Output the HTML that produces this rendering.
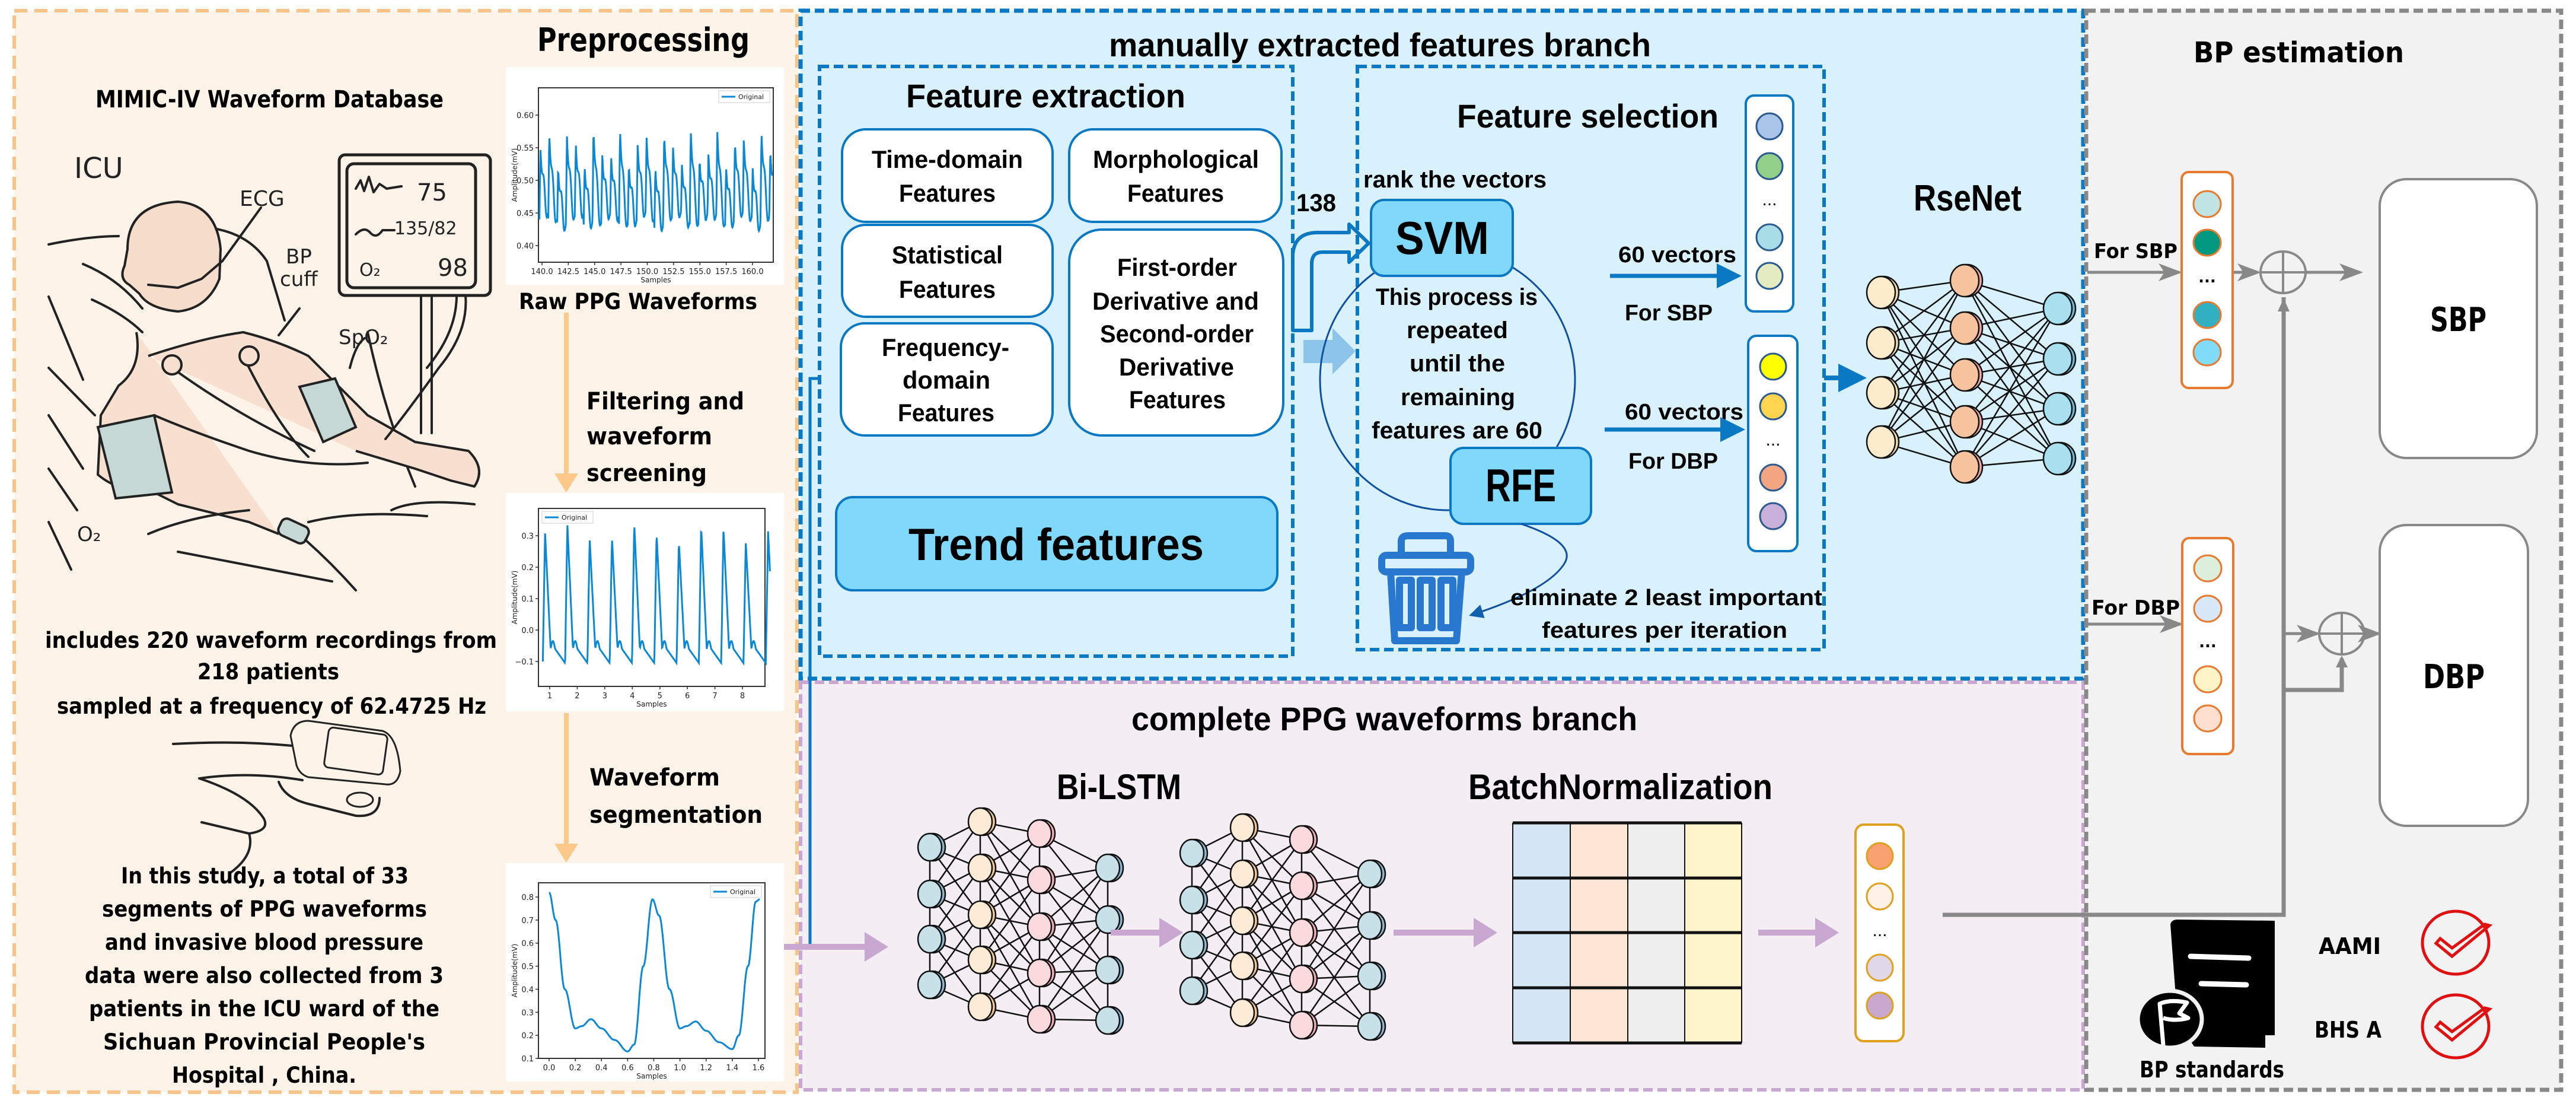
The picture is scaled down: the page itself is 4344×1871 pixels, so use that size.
<!DOCTYPE html>
<html><head><meta charset="utf-8">
<style>
html,body{margin:0;padding:0;background:#fff;}
svg{display:block;}
.v{font-family:"DejaVu Sans","Liberation Sans",sans-serif;font-weight:bold;fill:#000;}
.c{font-family:"Liberation Sans",sans-serif;font-weight:bold;fill:#000;}
.ln{stroke:#222;stroke-width:4;fill:none;stroke-linecap:round;stroke-linejoin:round;}
</style></head>
<body>
<svg id="s" width="4344" height="1871" viewBox="0 0 4344 1871" xmlns="http://www.w3.org/2000/svg">
<defs>
<marker id="ag" markerWidth="8" markerHeight="8" refX="7" refY="4" orient="auto" markerUnits="strokeWidth"><path d="M0,1 L8,4 L0,7 L2,4z" fill="#888"/></marker>
<marker id="ab" markerWidth="6" markerHeight="6" refX="5" refY="3" orient="auto" markerUnits="strokeWidth"><path d="M0,0 L6,3 L0,6z" fill="#0a78c2"/></marker>
<marker id="ap" markerWidth="4" markerHeight="5" refX="3" refY="2.5" orient="auto" markerUnits="strokeWidth"><path d="M0,0 L4,2.5 L0,5z" fill="#c8a8d0"/></marker>
<marker id="ao" markerWidth="4" markerHeight="5" refX="3" refY="2.5" orient="auto" markerUnits="strokeWidth"><path d="M0,0 L4,2.5 L0,5z" fill="#fcc98a"/></marker>
<marker id="ad" markerWidth="8" markerHeight="8" refX="7" refY="4" orient="auto" markerUnits="strokeWidth"><path d="M0,0 L8,4 L0,8z" fill="#1060b0"/></marker>
</defs>

<!-- panels -->
<rect x="24" y="18" width="1320" height="1823" fill="#fdf3e9" stroke="#f8c48a" stroke-width="6" stroke-dasharray="22,12"/>
<rect x="1350" y="18" width="2163" height="1126" fill="#d9f1fc" stroke="#0a78c2" stroke-width="7" stroke-dasharray="16,8"/>
<rect x="1350" y="1150" width="2163" height="687" fill="#f4eef4" stroke="#c8a8d0" stroke-width="6" stroke-dasharray="16,8"/>
<rect x="3518" y="18" width="801" height="1819" fill="#f2f2f2" stroke="#888" stroke-width="7" stroke-dasharray="16,8"/>

<!-- LEFT PANEL -->
<text class="v" x="906" y="86" font-size="54" textLength="358" lengthAdjust="spacingAndGlyphs">Preprocessing</text>
<text class="v" x="161" y="181" font-size="40" textLength="587" lengthAdjust="spacingAndGlyphs">MIMIC-IV Waveform Database</text>

<!-- ICU illustration -->
<g id="icu">
<path d="M82,412 Q150,398 200,398 M140,445 Q200,470 240,520 M155,505 Q210,530 240,560 M82,500 L140,640 M82,620 L160,700 M82,700 L140,790 M82,790 L130,860 M82,880 L120,960" class="ln"/>
<path d="M360,385 Q420,395 450,440 L480,540 M620,560 Q650,700 700,820" class="ln"/>
<path d="M230,560 Q240,620 200,650 L170,700 L165,800 Q200,830 260,830 L300,850 L420,880 L470,900 M250,600 Q340,570 410,560 Q470,575 520,600 L560,640 L620,700 L700,745 L790,760 Q820,790 800,820 L760,810 L700,790 L600,760" fill="#f8e0d0" stroke="#222" stroke-width="4" stroke-linejoin="round"/>
<path d="M215,420 Q215,345 300,340 Q365,345 372,420 L370,470 Q350,520 300,525 Q250,520 235,495 L218,480 Q200,470 210,448 Z" fill="#f6dccb" stroke="#222" stroke-width="4"/>
<path d="M250,480 L300,485 L340,470 L375,440" class="ln"/>
<path d="M375,440 L440,350" class="ln"/>
<path d="M165,720 L260,700 L290,830 L195,840 Z" fill="#c5d8d3" stroke="#222" stroke-width="4"/>
<path d="M505,652 L565,638 L600,720 L545,745 Z" fill="#c5d8d3" stroke="#222" stroke-width="4"/>
<path d="M260,700 Q330,730 420,760 Q520,790 620,780" class="ln"/>
<path d="M415,610 Q470,720 520,770 M290,620 Q400,700 530,760" class="ln"/>
<circle cx="290" cy="615" r="16" fill="#f8e0d0" stroke="#222" stroke-width="4"/>
<circle cx="420" cy="600" r="16" fill="#f8e0d0" stroke="#222" stroke-width="4"/>
<path d="M300,930 L560,980 M520,880 Q600,860 720,870 M660,860 Q700,840 800,850 M250,900 Q320,870 420,860" class="ln"/>
<rect x="470" y="880" width="50" height="30" rx="10" fill="#c5d8d3" stroke="#222" stroke-width="4" transform="rotate(25 495 895)"/>
<path d="M515,910 Q560,950 600,995" class="ln"/>
<path d="M470,565 L505,520" class="ln"/>
<path d="M590,620 Q600,580 615,570" class="ln"/>
<rect x="572" y="261" width="255" height="237" rx="10" fill="#fdf3e9" stroke="#222" stroke-width="5"/>
<rect x="585" y="276" width="217" height="209" rx="12" fill="#fdf3e9" stroke="#222" stroke-width="5"/>
<path d="M710,498 L710,730 M728,498 L728,730" class="ln"/>
<path d="M785,498 Q790,560 740,620 Q690,690 650,740 M770,498 Q770,560 720,620" class="ln"/>
<path d="M600,318 l8,-14 l6,18 l8,-24 l8,26 l10,-14 l12,8 l25,-4" class="ln"/>
<path d="M600,395 q15,-15 25,-2 q10,10 20,-5 l20,0" class="ln"/>
<text x="703" y="338" font-family="DejaVu Sans,sans-serif" font-size="40" fill="#222">75</text>
<text x="665" y="395" font-family="DejaVu Sans,sans-serif" font-size="30" fill="#222">135/82</text>
<text x="606" y="465" font-family="DejaVu Sans,sans-serif" font-size="30" fill="#222">O₂</text>
<text x="738" y="465" font-family="DejaVu Sans,sans-serif" font-size="40" fill="#222">98</text>
<text x="125" y="300" font-family="DejaVu Sans,sans-serif" font-size="48" fill="#222">ICU</text>
<text x="404" y="347" font-family="DejaVu Sans,sans-serif" font-size="36" fill="#222">ECG</text>
<text x="482" y="444" font-family="DejaVu Sans,sans-serif" font-size="34" fill="#222">BP</text>
<text x="472" y="482" font-family="DejaVu Sans,sans-serif" font-size="34" fill="#222">cuff</text>
<text x="571" y="580" font-family="DejaVu Sans,sans-serif" font-size="34" fill="#222">SpO₂</text>
<text x="130" y="912" font-family="DejaVu Sans,sans-serif" font-size="34" fill="#222">O₂</text>
</g>

<text class="v" x="76" y="1092" font-size="37" textLength="762" lengthAdjust="spacingAndGlyphs">includes 220 waveform recordings from</text>
<text class="v" x="333" y="1145" font-size="37" textLength="239" lengthAdjust="spacingAndGlyphs">218 patients</text>
<text class="v" x="96" y="1203" font-size="37" textLength="724" lengthAdjust="spacingAndGlyphs">sampled at a frequency of 62.4725 Hz</text>

<!-- wrist device -->
<path d="M292,1254 Q400,1248 493,1257 M337,1312 Q420,1300 510,1315 M336,1312 Q420,1340 445,1380 Q455,1400 420,1405 M340,1386 L420,1405 Q430,1440 390,1470" class="ln" stroke-width="3"/>
<path d="M490,1240 Q495,1215 520,1215 L645,1232 Q670,1240 675,1300 Q670,1325 650,1322 L520,1310 Q505,1305 500,1290 Z" fill="#fdf3e9" stroke="#222" stroke-width="3"/>
<rect x="550" y="1232" width="100" height="68" rx="8" fill="#fdf3e9" stroke="#222" stroke-width="3" transform="rotate(8 600 1266)"/>
<path d="M470,1318 Q480,1345 520,1355 L600,1375 Q640,1378 640,1345" class="ln" stroke-width="3"/>
<ellipse cx="607" cy="1348" rx="22" ry="12" fill="#fdf3e9" stroke="#222" stroke-width="3"/>

<text class="v" x="204" y="1489" font-size="37" textLength="485" lengthAdjust="spacingAndGlyphs">In this study, a total of 33</text>
<text class="v" x="172" y="1545" font-size="37" textLength="548" lengthAdjust="spacingAndGlyphs">segments of PPG waveforms</text>
<text class="v" x="177" y="1601" font-size="37" textLength="537" lengthAdjust="spacingAndGlyphs">and invasive blood pressure</text>
<text class="v" x="143" y="1657" font-size="37" textLength="605" lengthAdjust="spacingAndGlyphs">data were also collected from 3</text>
<text class="v" x="150" y="1713" font-size="37" textLength="591" lengthAdjust="spacingAndGlyphs">patients in the ICU ward of the</text>
<text class="v" x="174" y="1769" font-size="37" textLength="543" lengthAdjust="spacingAndGlyphs">Sichuan Provincial People's</text>
<text class="v" x="290" y="1825" font-size="37" textLength="311" lengthAdjust="spacingAndGlyphs">Hospital , China.</text>

<!-- charts -->
<g id="charts"></g>
<text class="v" x="875" y="521" font-size="37" textLength="402" lengthAdjust="spacingAndGlyphs">Raw PPG Waveforms</text>
<line x1="955" y1="527" x2="955" y2="822" stroke="#fcc98a" stroke-width="8" marker-end="url(#ao)"/>
<line x1="955" y1="1202" x2="955" y2="1446" stroke="#fcc98a" stroke-width="8" marker-end="url(#ao)"/>
<text class="v" x="989" y="690" font-size="40" textLength="266" lengthAdjust="spacingAndGlyphs">Filtering and</text>
<text class="v" x="989" y="749" font-size="40" textLength="212" lengthAdjust="spacingAndGlyphs">waveform</text>
<text class="v" x="989" y="811" font-size="40" textLength="203" lengthAdjust="spacingAndGlyphs">screening</text>
<text class="v" x="994" y="1324" font-size="40" textLength="220" lengthAdjust="spacingAndGlyphs">Waveform</text>
<text class="v" x="994" y="1387" font-size="40" textLength="292" lengthAdjust="spacingAndGlyphs">segmentation</text>

<!-- BLUE PANEL -->
<text class="c" x="1870" y="95" font-size="56" textLength="914" lengthAdjust="spacingAndGlyphs">manually extracted features branch</text>
<rect x="1382" y="112" width="798" height="994" fill="none" stroke="#0a78c2" stroke-width="6" stroke-dasharray="16,8"/>
<text class="c" x="1528" y="181" font-size="56" textLength="471" lengthAdjust="spacingAndGlyphs">Feature extraction</text>
<g fill="#fff" stroke="#0a78c2" stroke-width="4">
<rect x="1420" y="218" width="355" height="156" rx="40"/>
<rect x="1803" y="218" width="358" height="156" rx="40"/>
<rect x="1420" y="379" width="355" height="155" rx="40"/>
<rect x="1418" y="545" width="357" height="189" rx="40"/>
<rect x="1803" y="387" width="361" height="347" rx="55"/>
</g>
<rect x="1410" y="838" width="744" height="157" rx="28" fill="#80d9fa" stroke="#0a78c2" stroke-width="4"/>
<g class="c" font-size="42">
<text x="1470" y="283" textLength="255" lengthAdjust="spacingAndGlyphs">Time-domain</text>
<text x="1516" y="340" textLength="163" lengthAdjust="spacingAndGlyphs">Features</text>
<text x="1843" y="283" textLength="280" lengthAdjust="spacingAndGlyphs">Morphological</text>
<text x="1901" y="340" textLength="163" lengthAdjust="spacingAndGlyphs">Features</text>
<text x="1504" y="444" textLength="187" lengthAdjust="spacingAndGlyphs">Statistical</text>
<text x="1516" y="502" textLength="163" lengthAdjust="spacingAndGlyphs">Features</text>
<text x="1487" y="600" textLength="215" lengthAdjust="spacingAndGlyphs">Frequency-</text>
<text x="1522" y="655" textLength="148" lengthAdjust="spacingAndGlyphs">domain</text>
<text x="1514" y="710" textLength="163" lengthAdjust="spacingAndGlyphs">Features</text>
<text x="1884" y="465" textLength="202" lengthAdjust="spacingAndGlyphs">First-order</text>
<text x="1842" y="522" textLength="281" lengthAdjust="spacingAndGlyphs">Derivative and</text>
<text x="1855" y="577" textLength="259" lengthAdjust="spacingAndGlyphs">Second-order</text>
<text x="1887" y="633" textLength="194" lengthAdjust="spacingAndGlyphs">Derivative</text>
<text x="1904" y="688" textLength="163" lengthAdjust="spacingAndGlyphs">Features</text>
</g>
<text class="c" x="1532" y="944" font-size="76" textLength="498" lengthAdjust="spacingAndGlyphs">Trend features</text>
<text class="c" x="2186" y="356" font-size="42" textLength="67" lengthAdjust="spacingAndGlyphs">138</text>

<!-- bent arrow -->
<path d="M2180,557 L2180,430 Q2182,392 2222,392 L2275,392 L2275,378 L2308,410 L2275,442 L2275,425 L2230,425 Q2212,425 2212,445 L2212,557 Z" fill="#d9f1fc" stroke="#0a78c2" stroke-width="6" stroke-linejoin="round"/>
<path d="M2198,573 L2247,573 L2247,553 L2286,592 L2247,631 L2247,612 L2198,612 Z" fill="#8cc4ea"/>

<rect x="2289" y="112" width="787" height="983" fill="none" stroke="#0a78c2" stroke-width="6" stroke-dasharray="16,8"/>
<text class="c" x="2457" y="215" font-size="56" textLength="441" lengthAdjust="spacingAndGlyphs">Feature selection</text>
<text class="c" x="2299" y="316" font-size="40" textLength="309" lengthAdjust="spacingAndGlyphs">rank the vectors</text>
<ellipse cx="2441" cy="640" rx="215" ry="220" fill="none" stroke="#1050a0" stroke-width="3"/>
<rect x="2312" y="337" width="239" height="128" rx="22" fill="#80d9fa" stroke="#0a78c2" stroke-width="4"/>
<text class="c" x="2353" y="428" font-size="78" textLength="158" lengthAdjust="spacingAndGlyphs">SVM</text>
<g class="c" font-size="40">
<text x="2320" y="514" textLength="273" lengthAdjust="spacingAndGlyphs">This process is</text>
<text x="2372" y="570" textLength="171" lengthAdjust="spacingAndGlyphs">repeated</text>
<text x="2377" y="626" textLength="161" lengthAdjust="spacingAndGlyphs">until the</text>
<text x="2362" y="683" textLength="193" lengthAdjust="spacingAndGlyphs">remaining</text>
<text x="2313" y="739" textLength="288" lengthAdjust="spacingAndGlyphs">features are 60</text>
</g>
<rect x="2446" y="755" width="237" height="128" rx="22" fill="#80d9fa" stroke="#0a78c2" stroke-width="4"/>
<text class="c" x="2505" y="845" font-size="78" textLength="119" lengthAdjust="spacingAndGlyphs">RFE</text>
<path d="M2565,883 Q2660,915 2638,950 Q2610,995 2480,1037" fill="none" stroke="#1050a0" stroke-width="3" marker-end="url(#ad)"/>
<!-- trash -->
<g fill="none" stroke="#2878d0" stroke-width="12" stroke-linejoin="round">
<path d="M2363,936 L2363,912 Q2363,903 2375,903 L2437,903 Q2446,903 2446,912 L2446,936"/>
<rect x="2330" y="936" width="150" height="28" rx="8"/>
<path d="M2345,964 L2352,1080 L2456,1080 L2465,964"/>
<rect x="2360" y="978" width="20" height="80"/>
<rect x="2395" y="978" width="20" height="80"/>
<rect x="2430" y="978" width="20" height="80"/>
</g>
<text class="c" x="2547" y="1020" font-size="38" textLength="526" lengthAdjust="spacingAndGlyphs">eliminate 2 least important</text>
<text class="c" x="2600" y="1075" font-size="38" textLength="414" lengthAdjust="spacingAndGlyphs">features per iteration</text>

<text class="c" x="2729" y="442" font-size="38" textLength="199" lengthAdjust="spacingAndGlyphs">60 vectors</text>
<line x1="2715" y1="465" x2="2930" y2="465" stroke="#0a78c2" stroke-width="7" marker-end="url(#ab)"/>
<text class="c" x="2740" y="540" font-size="38" textLength="148" lengthAdjust="spacingAndGlyphs">For SBP</text>
<text class="c" x="2740" y="707" font-size="38" textLength="200" lengthAdjust="spacingAndGlyphs">60 vectors</text>
<line x1="2706" y1="724" x2="2936" y2="724" stroke="#0a78c2" stroke-width="7" marker-end="url(#ab)"/>
<text class="c" x="2746" y="790" font-size="38" textLength="151" lengthAdjust="spacingAndGlyphs">For DBP</text>

<rect x="2944" y="161" width="80" height="364" rx="14" fill="#fff" stroke="#0a78c2" stroke-width="4"/>
<g stroke="#2a5a90" stroke-width="3">
<circle cx="2984" cy="213" r="22" fill="#a8c4e8"/>
<circle cx="2984" cy="280" r="22" fill="#92d08a"/>
<circle cx="2984" cy="400" r="22" fill="#a8dde8"/>
<circle cx="2984" cy="465" r="22" fill="#e5ebc0"/>
</g>
<text x="2984" y="346" font-family="Liberation Sans,sans-serif" font-size="30" text-anchor="middle">...</text>
<rect x="2948" y="566" width="83" height="363" rx="14" fill="#fff" stroke="#0a78c2" stroke-width="4"/>
<g stroke="#2a5a90" stroke-width="3">
<circle cx="2990" cy="618" r="22" fill="#ffff00"/>
<circle cx="2990" cy="685" r="22" fill="#ffd54f"/>
<circle cx="2990" cy="805" r="22" fill="#f4a582"/>
<circle cx="2990" cy="870" r="22" fill="#c8b0d8"/>
</g>
<text x="2990" y="751" font-family="Liberation Sans,sans-serif" font-size="30" text-anchor="middle">...</text>

<line x1="3076" y1="637" x2="3140" y2="637" stroke="#0a78c2" stroke-width="8" marker-end="url(#ab)"/>
<text class="c" x="3227" y="355" font-size="62" textLength="182" lengthAdjust="spacingAndGlyphs">RseNet</text>
<g id="rse"></g>

<!-- blue connector line -->
<path d="M1382,638 L1366,638 L1366,1596" fill="none" stroke="#0a78c2" stroke-width="5"/>

<!-- PURPLE PANEL -->
<text class="c" x="1908" y="1231" font-size="56" textLength="853" lengthAdjust="spacingAndGlyphs">complete PPG waveforms branch</text>
<text class="c" x="1782" y="1347" font-size="60" textLength="210" lengthAdjust="spacingAndGlyphs">Bi-LSTM</text>
<text class="c" x="2476" y="1347" font-size="60" textLength="513" lengthAdjust="spacingAndGlyphs">BatchNormalization</text>
<line x1="1322" y1="1596" x2="1488" y2="1596" stroke="#c8a8d0" stroke-width="10" marker-end="url(#ap)"/>
<g id="bil"></g>
<line x1="1873" y1="1572" x2="1985" y2="1572" stroke="#c8a8d0" stroke-width="10" marker-end="url(#ap)"/>
<line x1="2350" y1="1572" x2="2515" y2="1572" stroke="#c8a8d0" stroke-width="10" marker-end="url(#ap)"/>
<line x1="2965" y1="1572" x2="3091" y2="1572" stroke="#c8a8d0" stroke-width="10" marker-end="url(#ap)"/>
<g>
<rect x="2551" y="1387" width="97" height="371" fill="#d4e6f4"/>
<rect x="2648" y="1387" width="97" height="371" fill="#fde6d6"/>
<rect x="2745" y="1387" width="96" height="371" fill="#eeeeee"/>
<rect x="2841" y="1387" width="96" height="371" fill="#fff4cc"/>
<g stroke="#111" stroke-width="2"><line x1="2648" y1="1387" x2="2648" y2="1758"/><line x1="2745" y1="1387" x2="2745" y2="1758"/><line x1="2841" y1="1387" x2="2841" y2="1758"/><line x1="2551" y1="1387" x2="2551" y2="1758"/><line x1="2937" y1="1387" x2="2937" y2="1758"/></g>
<g stroke="#111" stroke-width="5"><line x1="2551" y1="1387" x2="2937" y2="1387"/><line x1="2551" y1="1480" x2="2937" y2="1480"/><line x1="2551" y1="1572" x2="2937" y2="1572"/><line x1="2551" y1="1665" x2="2937" y2="1665"/><line x1="2551" y1="1758" x2="2937" y2="1758"/></g>
</g>
<rect x="3129" y="1390" width="81" height="365" rx="14" fill="#fff" stroke="#e0a020" stroke-width="4"/>
<g stroke="#e0a020" stroke-width="3">
<circle cx="3170" cy="1443" r="22" fill="#f8a070"/>
<circle cx="3170" cy="1511" r="22" fill="#fff0e8"/>
<circle cx="3170" cy="1631" r="22" fill="#e0d8e8"/>
<circle cx="3170" cy="1695" r="22" fill="#c8a8cc"/>
</g>
<text x="3170" y="1578" font-family="Liberation Sans,sans-serif" font-size="30" text-anchor="middle">...</text>

<!-- GRAY PANEL -->
<text class="v" x="3699" y="105" font-size="48" textLength="355" lengthAdjust="spacingAndGlyphs">BP estimation</text>
<text class="v" x="3531" y="435" font-size="34" textLength="141" lengthAdjust="spacingAndGlyphs">For SBP</text>
<line x1="3520" y1="459" x2="3675" y2="459" stroke="#888" stroke-width="5" marker-end="url(#ag)"/>
<rect x="3679" y="290" width="86" height="364" rx="12" fill="#fff" stroke="#e87a30" stroke-width="4"/>
<g stroke="#e87a30" stroke-width="3">
<ellipse cx="3722" cy="344" rx="23" ry="22" fill="#c0e4e4"/>
<ellipse cx="3722" cy="409" rx="23" ry="22" fill="#009980"/>
<ellipse cx="3722" cy="531" rx="23" ry="22" fill="#30b0c0"/>
<ellipse cx="3722" cy="594" rx="23" ry="22" fill="#80dcf8"/>
</g>
<text x="3722" y="476" font-family="DejaVu Sans,sans-serif" font-size="26" font-weight="bold" text-anchor="middle">...</text>
<line x1="3767" y1="459" x2="3808" y2="459" stroke="#888" stroke-width="5" marker-end="url(#ag)"/>
<ellipse cx="3850" cy="459" rx="38" ry="35" fill="none" stroke="#888" stroke-width="4"/>
<path d="M3812,459 L3888,459 M3850,424 L3850,494" stroke="#888" stroke-width="4"/>
<line x1="3888" y1="459" x2="3980" y2="459" stroke="#888" stroke-width="5" marker-end="url(#ag)"/>
<rect x="4013" y="302" width="265" height="470" rx="45" fill="#fff" stroke="#888" stroke-width="4"/>
<text class="v" x="4098" y="558" font-size="56" textLength="95" lengthAdjust="spacingAndGlyphs">SBP</text>

<text class="v" x="3527" y="1036" font-size="34" textLength="149" lengthAdjust="spacingAndGlyphs">For DBP</text>
<line x1="3520" y1="1052" x2="3677" y2="1052" stroke="#888" stroke-width="5" marker-end="url(#ag)"/>
<rect x="3680" y="907" width="86" height="364" rx="12" fill="#fff" stroke="#e87a30" stroke-width="4"/>
<g stroke="#e87a30" stroke-width="3">
<ellipse cx="3723" cy="958" rx="23" ry="22" fill="#dcefdc"/>
<ellipse cx="3723" cy="1026" rx="23" ry="22" fill="#d8e8f8"/>
<ellipse cx="3723" cy="1145" rx="23" ry="22" fill="#fff4c8"/>
<ellipse cx="3723" cy="1211" rx="23" ry="22" fill="#ffe0d0"/>
</g>
<text x="3723" y="1091" font-family="DejaVu Sans,sans-serif" font-size="26" font-weight="bold" text-anchor="middle">...</text>
<ellipse cx="3949" cy="1068" rx="38" ry="35" fill="none" stroke="#888" stroke-width="4"/>
<path d="M3911,1068 L3987,1068 M3949,1033 L3949,1103" stroke="#888" stroke-width="4"/>
<line x1="3987" y1="1068" x2="4011" y2="1068" stroke="#888" stroke-width="5" marker-end="url(#ag)"/>
<rect x="4013" y="885" width="250" height="507" rx="45" fill="#fff" stroke="#888" stroke-width="4"/>
<text class="v" x="4086" y="1160" font-size="56" textLength="104" lengthAdjust="spacingAndGlyphs">DBP</text>

<path d="M3276,1542 L3851,1542 L3851,501" fill="none" stroke="#888" stroke-width="7"/>
<path d="M3851,503 L3841,525 L3861,525 Z" fill="#888"/>
<line x1="3851" y1="1068" x2="3908" y2="1068" stroke="#888" stroke-width="5" marker-end="url(#ag)"/>
<path d="M3851,1163 L3949,1163 L3949,1110" fill="none" stroke="#888" stroke-width="7"/>
<path d="M3949,1105 L3939,1125 L3959,1125 Z" fill="#888"/>

<!-- book icon -->
<path d="M3660,1558 Q3662,1550 3672,1550 L3836,1552 L3836,1745 L3820,1745 L3820,1766 L3700,1764 L3672,1720 Z" fill="#000"/>
<path d="M3694,1612 L3792,1615 M3712,1658 L3788,1660" stroke="#fff" stroke-width="9" stroke-linecap="round"/>
<ellipse cx="3659" cy="1718" rx="54" ry="48" fill="#000" stroke="#f2f2f2" stroke-width="7"/>
<path d="M3648,1762 L3642,1692 Q3660,1684 3688,1690 L3675,1708 L3690,1716 Q3668,1722 3648,1716" fill="none" stroke="#fff" stroke-width="7" stroke-linejoin="round"/>
<text class="v" x="3608" y="1816" font-size="38" textLength="244" lengthAdjust="spacingAndGlyphs">BP standards</text>
<text class="v" x="3910" y="1608" font-size="38" textLength="105" lengthAdjust="spacingAndGlyphs">AAMI</text>
<text class="v" x="3903" y="1749" font-size="38" textLength="113" lengthAdjust="spacingAndGlyphs">BHS A</text>
<g fill="none" stroke="#e01010" stroke-width="5">
<ellipse cx="4141" cy="1589" rx="56" ry="53"/>
<path d="M4108,1590 L4135,1612 L4198,1560 L4190,1558 L4135,1598 L4115,1582 Z"/>
<ellipse cx="4141" cy="1730" rx="56" ry="53"/>
<path d="M4108,1731 L4135,1753 L4198,1701 L4190,1699 L4135,1739 L4115,1723 Z"/>
</g>
</svg>

<script>
var NS="http://www.w3.org/2000/svg";
function el(p,t,a){var e=document.createElementNS(NS,t);for(var k in a)e.setAttribute(k,a[k]);p.appendChild(e);return e;}
function txt(p,x,y,s,fs,anchor,rot){var e=el(p,"text",{x:x,y:y,"font-family":"DejaVu Sans,sans-serif","font-size":fs,fill:"#222","text-anchor":anchor||"middle"});if(rot)e.setAttribute("transform","rotate(-90 "+x+" "+y+")");e.textContent=s;return e;}
var C=document.getElementById("charts");
function chart(bx,by,bw,bh,px,py,pw,ph,yt,xt,fn,x0,x1,legendRight){
 el(C,"rect",{x:bx,y:by,width:bw,height:bh,fill:"#fff"});
 el(C,"rect",{x:px,y:py,width:pw,height:ph,fill:"none",stroke:"#333","stroke-width":2});
 yt.forEach(function(t){el(C,"line",{x1:px-5,y1:t[1],x2:px,y2:t[1],stroke:"#333","stroke-width":1.5});txt(C,px-8,t[1]+5,t[0],13,"end");});
 xt.forEach(function(t){el(C,"line",{x1:t[1],y1:py+ph,x2:t[1],y2:py+ph+5,stroke:"#333","stroke-width":1.5});txt(C,t[1],py+ph+20,t[0],13);});
 txt(C,px+pw/2,py+ph+34,"Samples",12);
 txt(C,px-36,py+ph/2,"Amplitude(mV)",12,"middle",true);
 var pts=[];for(var i=0;i<=600;i++){var x=x0+(x1-x0)*i/600;var p=fn(x);pts.push(p[0].toFixed(1)+","+p[1].toFixed(1));}
 el(C,"polyline",{points:pts.join(" "),fill:"none",stroke:"#0a88d6","stroke-width":3});
 var lx=legendRight?px+pw-92:px+6;
 el(C,"rect",{x:lx,y:py+5,width:86,height:20,fill:"#fff",stroke:"#ccc","stroke-width":1});
 el(C,"line",{x1:lx+5,y1:py+15,x2:lx+28,y2:py+15,stroke:"#0a88d6","stroke-width":3});
 txt(C,lx+33,py+19,"Original",11,"start");
}
(function(){
 var X=function(v){return 914+(v-140)*(1269-914)/20;},Y=function(v){return 194+(0.60-v)/0.2*220;};
 var per=0.84;
 chart(853,113,469,367,908,148,396,294,[["0.60",Y(.6)],["0.55",Y(.55)],["0.50",Y(.5)],["0.45",Y(.45)],["0.40",Y(.4)]],
 [["140.0",X(140)],["142.5",X(142.5)],["145.0",X(145)],["147.5",X(147.5)],["150.0",X(150)],["152.5",X(152.5)],["155.0",X(155)],["157.5",X(157.5)],["160.0",X(160)]],
 function(x){var ph=((x-139.75)/per)%1;var k=Math.floor((x-139.75)/per);var amp=0.55+0.03*Math.sin(k*2.3);var lo=0.43+0.01*Math.cos(k*1.7);
 var v=ph<0.12?lo+(amp-lo)*(ph/0.12):lo+(amp-lo)*Math.pow(1-(ph-0.12)/0.88,1.3)-0.012*Math.sin((ph-0.12)*12);
 return [X(x),Y(v)];},139.75,161.9,true);
})();
(function(){
 var X=function(v){return 927+(v-1)*(1252-927)/7;},Y=function(v){return 903+(0.3-v)/0.4*212;};
 chart(853,831,469,368,908,857,382,300,[["0.3",Y(.3)],["0.2",Y(.2)],["0.1",Y(.1)],["0.0",Y(0)],["−0.1",Y(-.1)]],
 [["1",X(1)],["2",X(2)],["3",X(3)],["4",X(4)],["5",X(5)],["6",X(6)],["7",X(7)],["8",X(8)]],
 function(x){var per=0.81;var ph=((x-0.75)/per)%1;if(ph<0)ph+=1;var k=Math.floor((x-0.75)/per);var pk=0.31+0.03*Math.sin(k*1.9);var v;
 if(ph<0.1)v=-0.1+(pk+0.1)*(ph/0.1);else if(ph<0.35)v=pk-(pk+0.06)*((ph-0.1)/0.25);else if(ph<0.55)v=-0.06+0.025*Math.sin((ph-0.35)/0.2*Math.PI);else v=-0.06-0.045*((ph-0.55)/0.45);
 return [X(x),Y(v)];},0.75,9.0,false);
})();
(function(){
 var X=function(v){return 926+v*(1279-926)/1.6;},Y=function(v){return 1512+(0.8-v)/0.7*272;};
 var kp=[[0,0.82],[0.05,0.7],[0.12,0.4],[0.2,0.23],[0.25,0.24],[0.32,0.27],[0.4,0.23],[0.5,0.18],[0.6,0.13],[0.65,0.16],[0.72,0.5],[0.79,0.79],[0.84,0.72],[0.92,0.4],[1.0,0.23],[1.05,0.24],[1.12,0.26],[1.2,0.22],[1.3,0.17],[1.4,0.14],[1.45,0.2],[1.52,0.5],[1.58,0.78],[1.61,0.79]];
 chart(853,1455,469,368,908,1488,382,296,[["0.8",Y(.8)],["0.7",Y(.7)],["0.6",Y(.6)],["0.5",Y(.5)],["0.4",Y(.4)],["0.3",Y(.3)],["0.2",Y(.2)],["0.1",Y(.1)]],
 [["0.0",X(0)],["0.2",X(.2)],["0.4",X(.4)],["0.6",X(.6)],["0.8",X(.8)],["1.0",X(1)],["1.2",X(1.2)],["1.4",X(1.4)],["1.6",X(1.6)]],
 function(x){for(var i=0;i<kp.length-1;i++){if(x<=kp[i+1][0]){var a=kp[i],b=kp[i+1];var t=(x-a[0])/(b[0]-a[0]);t=(1-Math.cos(t*Math.PI))/2;return [X(x),Y(a[1]+(b[1]-a[1])*t)];}}return [X(x),Y(kp[kp.length-1][1])];},0,1.61,true);
})();
(function(){
 var G=document.getElementById("rse");
 var L=[[3172,[493,578,662,745],"#fdeccc","#f0dcb0"],[3313,[473,553,632,711,787],"#f8c4a0","#f0a8a8"],[3470,[520,605,689,773],"#a8e0f0","#70b8d8"]];
 for(var l=0;l<2;l++)L[l][1].forEach(function(a){L[l+1][1].forEach(function(b){el(G,"line",{x1:L[l][0],y1:a,x2:L[l+1][0],y2:b,stroke:"#111","stroke-width":2.5});});});
 L.forEach(function(c){c[1].forEach(function(y){el(G,"ellipse",{cx:c[0]+4,cy:y,rx:26,ry:27,fill:c[3],stroke:"#111","stroke-width":2.5});el(G,"ellipse",{cx:c[0],cy:y,rx:24,ry:27,fill:c[2],stroke:"#111","stroke-width":2.5});});});
})();
(function(){
 var G=document.getElementById("bil");
 function net(dx,dy){
  var cols=[[1568,[1428,1507,1583,1660],"#c8e0e8","#90b8d0"],[1653,[1385,1463,1542,1618,1697],"#fdebd6","#f0c898"],[1753,[1405,1483,1562,1640,1718],"#fadadd","#f0b0b8"],[1868,[1463,1550,1635,1720],"#c8e0e8","#90b8d0"]];
  for(var c=0;c<3;c++){var A=cols[c][1],B=cols[c+1][1];A.forEach(function(a,i){B.forEach(function(b,j){if(Math.abs(a-b)<190)el(G,"line",{x1:cols[c][0]+dx,y1:a+dy,x2:cols[c+1][0]+dx,y2:b+dy,stroke:"#111","stroke-width":2.5});});});}
  cols.forEach(function(c){for(var i=0;i<c[1].length-1;i++)el(G,"line",{x1:c[0]+dx,y1:c[1][i]+dy,x2:c[0]+dx,y2:c[1][i+1]+dy,stroke:"#111","stroke-width":2.5});});
  cols.forEach(function(c){c[1].forEach(function(y){el(G,"ellipse",{cx:c[0]+dx+5,cy:y+dy,rx:21,ry:23,fill:c[3],stroke:"#111","stroke-width":2.5});el(G,"ellipse",{cx:c[0]+dx,cy:y+dy,rx:20,ry:23,fill:c[2],stroke:"#111","stroke-width":2.5});});});
 }
 net(0,0);net(442,10);
})();
</script>
</body></html>
